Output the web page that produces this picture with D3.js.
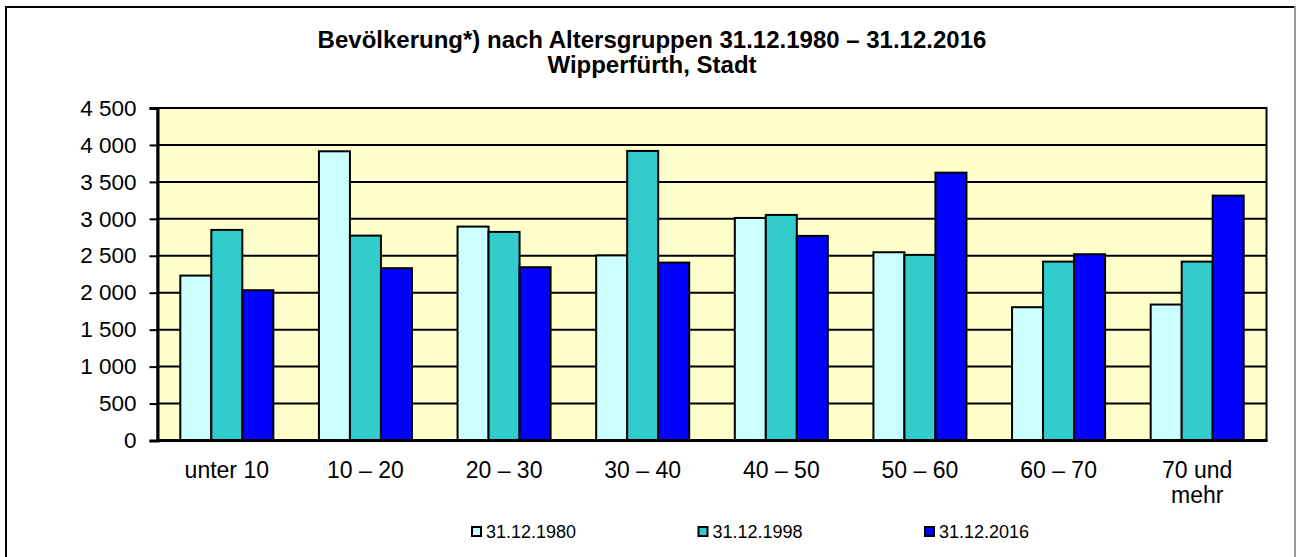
<!DOCTYPE html>
<html>
<head>
<meta charset="utf-8">
<script src="https://cdn.jsdelivr.net/npm/d3@7"></script>
<style>
  body { margin: 0; background: #fff; }
  svg { display: block; font-family: "Liberation Sans", Arial, sans-serif; }
</style>
</head>
<body>
<svg id="chart" width="1297" height="557"></svg>
<script>
// Data
var categories = ["unter 10", "10 – 20", "20 – 30", "30 – 40", "40 – 50", "50 – 60", "60 – 70", "70 und|mehr"];
var seriesNames = ["31.12.1980", "31.12.1998", "31.12.2016"];
var values1980 = [2232, 3914, 2895, 2505, 3012, 2548, 1804, 1840];
var values1998 = [2850, 2773, 2823, 3919, 3053, 2512, 2421, 2421];
var values2016 = [2034, 2332, 2345, 2408, 2769, 3625, 2521, 3314];
var yTicks = [0, 500, 1000, 1500, 2000, 2500, 3000, 3500, 4000, 4500];
var titleLines = ["Bevölkerung*) nach Altersgruppen 31.12.1980 – 31.12.2016", "Wipperfürth, Stadt"];

var colors = ["#CCFFFF", "#33CCCC", "#0000FF"];
var allSeries = [values1980, values1998, values2016];

var svg = d3.select("#chart");

// outer frame
svg.append("rect")
	.attr("x", 6).attr("y", 7)
	.attr("width", 1289).attr("height", 560)
	.attr("fill", "#fff")
	.attr("stroke", "#000")
	.attr("stroke-width", 2);
// right edge of the frame looks lighter in the reference
svg.append("line")
	.attr("x1", 1295).attr("x2", 1295)
	.attr("y1", 6).attr("y2", 557)
	.attr("stroke", "#999")
	.attr("stroke-width", 2);

// title
svg.selectAll("text.title")
	.data(titleLines)
	.enter().append("text")
	.attr("class", "title")
	.attr("x", 652)
	.attr("y", function(d, i) { return 48 + i * 25; })
	.attr("text-anchor", "middle")
	.attr("font-weight", "bold")
	.attr("font-size", 24)
	.text(function(d) { return d; });

var plot = { left: 157.5, right: 1266.5, top: 108, bottom: 440.5 };

var x0 = d3.scaleBand()
	.domain(categories)
	.range([plot.left, plot.right])
	.paddingInner(0.329)
	.paddingOuter(0.1645);

var x1 = d3.scaleBand()
	.domain(d3.range(seriesNames.length))
	.range([0, x0.bandwidth()]);

var y = d3.scaleLinear()
	.domain([0, 4500])
	.range([plot.bottom, plot.top]);

// plot background
svg.append("rect")
	.attr("x", plot.left).attr("y", plot.top)
	.attr("width", plot.right - plot.left)
	.attr("height", plot.bottom - plot.top)
	.attr("fill", "#FFFFCC")
	.attr("stroke", "#000")
	.attr("stroke-width", 2);

// gridlines
svg.append("g")
	.selectAll("line")
	.data(yTicks.slice(1))
	.enter().append("line")
	.attr("x1", plot.left).attr("x2", plot.right)
	.attr("y1", function(d) { return y(d); })
	.attr("y2", function(d) { return y(d); })
	.attr("stroke", "#000")
	.attr("stroke-width", 2);

// y axis
var fmt = d3.formatLocale({ decimal: ",", thousands: " ", grouping: [3], currency: ["", "€"] }).format(",d");
var yAxis = svg.append("g")
	.attr("transform", "translate(" + plot.left + ",0)")
	.call(d3.axisLeft(y).tickValues(yTicks).tickSize(8).tickPadding(13).tickFormat(fmt));
yAxis.select(".domain").attr("stroke-width", 3);
yAxis.selectAll(".tick line").attr("stroke-width", 2);
yAxis.selectAll(".tick text")
	.attr("font-size", 22.5)
	.attr("font-family", "Liberation Sans, Arial, sans-serif")
	.attr("fill", "#000");

// bars
var groups = svg.append("g")
	.selectAll("g")
	.data(categories)
	.enter().append("g")
	.attr("transform", function(d) { return "translate(" + x0(d) + ",0)"; });

groups.selectAll("rect")
	.data(function(d, ci) { return allSeries.map(function(s, si) { return { s: si, v: s[ci] }; }); })
	.enter().append("rect")
	.attr("x", function(d) { return x1(d.s); })
	.attr("y", function(d) { return y(d.v); })
	.attr("width", x1.bandwidth())
	.attr("height", function(d) { return y(0) - y(d.v); })
	.attr("fill", function(d) { return colors[d.s]; })
	.attr("stroke", "#000")
	.attr("stroke-width", 2);

// x axis line
svg.append("line")
	.attr("x1", plot.left - 1).attr("x2", plot.right + 1)
	.attr("y1", plot.bottom).attr("y2", plot.bottom)
	.attr("stroke", "#000")
	.attr("stroke-width", 3);

// category labels
svg.append("g")
	.selectAll("text")
	.data(categories)
	.enter().append("text")
	.attr("x", function(d) { return x0(d) + x0.bandwidth() / 2; })
	.attr("y", 478)
	.attr("text-anchor", "middle")
	.attr("font-size", 23)
	.each(function(d) {
		var parts = d.split("|");
		var t = d3.select(this);
		parts.forEach(function(p, i) {
			t.append("tspan")
				.attr("x", x0(d) + x0.bandwidth() / 2)
				.attr("dy", i == 0 ? 0 : 25)
				.text(p);
		});
	});

// legend
var legend = svg.append("g")
	.selectAll("g")
	.data(seriesNames)
	.enter().append("g")
	.attr("transform", function(d, i) { return "translate(" + (472 + i * 226.5) + ",527)"; });

legend.append("rect")
	.attr("x", 0).attr("y", 0)
	.attr("width", 9).attr("height", 9)
	.attr("fill", function(d, i) { return colors[i]; })
	.attr("stroke", "#000")
	.attr("stroke-width", 2);

legend.append("text")
	.attr("x", 14)
	.attr("y", 11)
	.attr("font-size", 18)
	.text(function(d) { return d; });
</script>
</body>
</html>
